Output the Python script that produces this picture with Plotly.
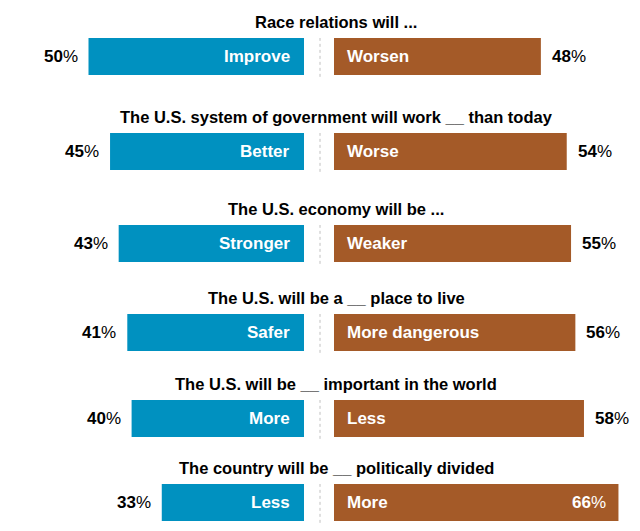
import plotly.graph_objects as go

# ---- data ----
titles = [
    "Race relations will ...",
    "The U.S. system of government will work __ than today",
    "The U.S. economy will be ...",
    "The U.S. will be a __ place to live",
    "The U.S. will be __ important in the world",
    "The country will be __ politically divided",
]
left_labels = ["Improve", "Better", "Stronger", "Safer", "More", "Less"]
right_labels = ["Worsen", "Worse", "Weaker", "More dangerous", "Less", "More"]
left_values = [50, 45, 43, 41, 40, 33]
right_values = [48, 54, 55, 56, 58, 66]

# ---- layout / style ----
W, H = 640, 531
BLUE = "rgb(0,145,192)"
BROWN = "rgb(164,90,40)"
FONT = "Liberation Sans, Arial, sans-serif"
row_centers = [56.5, 151.5, 243.5, 332.5, 418.5, 502.5]  # pixel centres of rows
bar_h = 37
px_per_pct = 4.31
left_end = 304
right_start = 334
divider = 320
title_x = 336

fig = go.Figure()
layout = {}
annotations = []
shapes = []

for i, (title, ll, rl, lv, rv) in enumerate(
    zip(titles, left_labels, right_labels, left_values, right_values)
):
    la, ra = 2 * i + 1, 2 * i + 2
    xl = "x" if la == 1 else f"x{la}"
    yl = "y" if la == 1 else f"y{la}"
    xr, yr = f"x{ra}", f"y{ra}"

    fig.add_trace(go.Bar(x=[lv], y=[0], orientation="h", xaxis=xl, yaxis=yl,
                         marker=dict(color=BLUE, line=dict(width=0)), width=1,
                         hoverinfo="skip", showlegend=False))
    fig.add_trace(go.Bar(x=[rv], y=[0], orientation="h", xaxis=xr, yaxis=yr,
                         marker=dict(color=BROWN, line=dict(width=0)), width=1,
                         hoverinfo="skip", showlegend=False))

    c = row_centers[i]
    top = 1 - (c - bar_h / 2) / H
    bot = 1 - (c + bar_h / 2) / H

    layout[f"xaxis{la}"] = dict(domain=[0, left_end / W], range=[left_end / px_per_pct, 0],
                                visible=False, anchor=yl, fixedrange=True)
    layout[f"yaxis{la}"] = dict(domain=[bot, top], range=[-0.5, 0.5], visible=False,
                                anchor=xl, fixedrange=True)
    layout[f"xaxis{ra}"] = dict(domain=[right_start / W, 1],
                                range=[0, (W - right_start) / px_per_pct],
                                visible=False, anchor=yr, fixedrange=True)
    layout[f"yaxis{ra}"] = dict(domain=[bot, top], range=[-0.5, 0.5], visible=False,
                                anchor=xr, fixedrange=True)

    lab_font = dict(family=FONT, size=17, color="black")
    in_font = dict(family=FONT, size=17, color="white")

    # title
    annotations.append(dict(text=f"<b>{title}</b>", x=title_x / W, xref="paper",
                            y=1, yref=f"{yl} domain", xanchor="center", yanchor="bottom",
                            yshift=5, showarrow=False,
                            font=dict(family=FONT, size=16.5, color="black")))
    # left value outside
    annotations.append(dict(text=f"<b>{lv}</b>%", x=lv, xref=xl, y=0, yref=yl,
                            xanchor="right", xshift=-9, showarrow=False, font=lab_font))
    # left label inside
    annotations.append(dict(text=f"<b>{ll}</b>", x=0, xref=xl, y=0, yref=yl,
                            xanchor="right", xshift=-12, showarrow=False, font=in_font))
    # right label inside
    annotations.append(dict(text=f"<b>{rl}</b>", x=0, xref=xr, y=0, yref=yr,
                            xanchor="left", xshift=11, showarrow=False, font=in_font))
    # right value
    fits_outside = right_start + rv * px_per_pct + 48 < W
    if fits_outside:
        annotations.append(dict(text=f"<b>{rv}</b>%", x=rv, xref=xr, y=0, yref=yr,
                                xanchor="left", xshift=9, showarrow=False, font=lab_font))
    else:
        annotations.append(dict(text=f"<b>{rv}</b>%", x=rv, xref=xr, y=0, yref=yr,
                                xanchor="right", xshift=-10, showarrow=False, font=in_font))
    # dotted divider
    shapes.append(dict(type="line", xref="paper", x0=divider / W, x1=divider / W,
                       yref=f"{yl} domain", y0=-0.05, y1=1,
                       line=dict(color="#c0c0c0", width=1, dash="dot")))

fig.update_layout(
    width=W, height=H,
    margin=dict(l=0, r=0, t=0, b=0),
    paper_bgcolor="white", plot_bgcolor="white",
    annotations=annotations, shapes=shapes,
    showlegend=False,
    **layout,
)

fig.write_html("out.html")
